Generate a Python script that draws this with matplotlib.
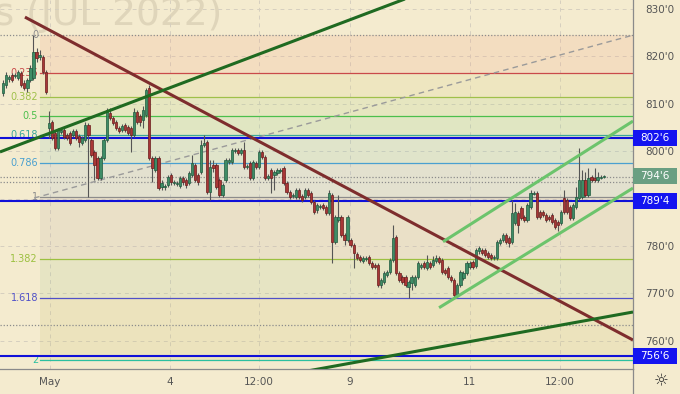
import numpy as np
import matplotlib
matplotlib.use("Agg")
import matplotlib.pyplot as plt
import matplotlib.transforms as mtransforms
from matplotlib.patches import Rectangle

# candles, one per bar, prices in cents
opens = [812.2, 813.9, 815.2, 816.0, 815.8, 815.4, 816.4, 814.3, 813.3, 815.0,
         815.4, 820.9, 819.8, 819.8, 816.6, 804.9, 806.1, 803.8, 800.6, 804.0,
         804.4, 803.4, 803.8, 803.4, 804.2, 803.2, 801.7, 802.3, 805.5, 802.3,
         799.8, 798.5, 794.3, 798.5, 802.3, 808.0, 807.0, 806.1, 804.9, 804.4,
         805.5, 805.1, 804.9, 803.4, 808.2, 807.4, 806.5, 807.6, 813.3, 798.5,
         796.0, 798.5, 792.4, 792.4, 792.8, 795.0, 793.3, 793.1, 792.6, 794.3,
         793.9, 793.3, 795.0, 797.1, 795.0, 795.6, 801.3, 801.9, 791.4, 797.1,
         797.1, 793.9, 790.7, 793.9, 797.7, 797.7, 800.0, 800.2, 799.6, 800.2,
         796.6, 797.5, 794.3, 797.5, 796.6, 799.8, 798.7, 794.3, 796.0, 795.0,
         795.4, 795.8, 796.4, 793.3, 791.4, 790.5, 790.3, 791.8, 790.5, 790.3,
         791.8, 791.2, 789.3, 787.6, 788.2, 788.6, 788.2, 787.0, 790.7, 780.9,
         785.5, 786.1, 782.3, 781.3, 781.3, 780.2, 778.3, 777.7, 776.9, 777.3,
         777.7, 776.4, 776.0, 776.0, 771.8, 772.4, 773.9, 774.5, 777.1, 781.9,
         774.3, 773.5, 773.5, 771.4, 772.2, 771.8, 773.5, 775.6, 776.4, 775.4,
         776.4, 776.0, 776.9, 777.5, 777.1, 775.0, 775.4, 773.5, 772.9, 769.7,
         771.8, 773.3, 774.3, 775.6, 776.6, 775.8, 778.9, 779.2, 779.2, 778.5,
         778.1, 777.5, 777.5, 780.6, 781.3, 782.3, 781.7, 780.9, 784.9, 787.0,
         788.0, 786.1, 785.5, 788.2, 791.0, 791.2, 787.2, 787.2, 786.5, 786.1,
         786.5, 785.5, 785.1, 784.9, 790.1, 789.7, 788.2, 785.9, 788.2, 790.1,
         790.3, 793.9, 790.7, 794.5, 794.3, 793.9, 794.3, 794.5]
closes = [814.3, 816.0, 815.6, 815.0, 816.0, 816.6, 813.9, 813.3, 815.0, 817.5,
          820.9, 819.6, 820.2, 816.6, 812.4, 805.9, 802.7, 800.6, 804.4, 804.4,
          803.0, 802.7, 801.7, 804.2, 802.7, 801.9, 802.7, 805.5, 803.4, 799.2,
          797.1, 794.3, 798.5, 802.3, 808.6, 807.0, 805.9, 804.9, 804.2, 805.3,
          804.4, 803.8, 803.4, 808.2, 806.1, 806.1, 808.6, 812.9, 798.5, 796.4,
          798.5, 792.2, 793.3, 792.6, 794.5, 793.5, 793.5, 793.3, 794.3, 793.5,
          792.8, 795.4, 797.5, 793.9, 793.5, 801.3, 801.7, 791.4, 796.6, 796.4,
          792.4, 790.7, 792.8, 798.1, 798.1, 800.2, 800.2, 799.6, 800.2, 796.6,
          796.9, 794.3, 797.7, 796.6, 799.8, 798.7, 794.3, 794.7, 794.3, 795.6,
          796.0, 796.0, 793.3, 791.4, 790.3, 790.7, 791.8, 790.3, 789.7, 791.8,
          790.7, 789.3, 787.2, 788.6, 788.4, 788.0, 787.0, 791.2, 780.9, 786.1,
          786.1, 782.3, 781.3, 786.1, 780.2, 778.5, 777.5, 777.1, 777.5, 777.5,
          776.4, 775.6, 775.6, 771.8, 772.9, 774.3, 774.5, 777.1, 781.7, 774.3,
          772.9, 772.4, 771.8, 772.4, 773.5, 773.5, 776.4, 776.0, 775.6, 776.6,
          775.6, 777.1, 777.5, 776.6, 774.5, 774.3, 773.5, 772.9, 769.7, 771.8,
          774.5, 774.3, 776.4, 776.4, 775.6, 779.2, 779.6, 778.5, 778.1, 777.7,
          777.5, 777.7, 780.9, 781.3, 782.3, 780.9, 780.6, 787.0, 787.2, 784.4,
          785.9, 785.5, 788.6, 791.2, 791.2, 786.1, 786.1, 786.5, 785.5, 785.7,
          785.1, 784.0, 784.4, 787.2, 787.2, 787.2, 785.9, 788.6, 790.3, 793.9,
          793.9, 790.7, 794.3, 793.9, 793.9, 794.5, 794.5, 794.75]
highs = [815.0, 816.6, 816.0, 816.4, 816.4, 817.1, 816.9, 815.0, 815.4, 818.1,
         824.5, 821.7, 821.3, 820.2, 817.1, 808.4, 806.5, 804.4, 804.9, 804.9,
         804.9, 803.8, 804.2, 804.6, 804.6, 803.6, 803.2, 806.1, 805.9, 802.7,
         800.2, 799.0, 799.0, 802.7, 809.1, 809.1, 807.4, 806.5, 805.3, 805.7,
         805.9, 805.5, 805.3, 809.1, 808.6, 807.8, 809.5, 813.3, 813.9, 799.0,
         799.0, 799.0, 793.9, 793.1, 795.0, 795.4, 793.9, 793.7, 794.7, 794.7,
         794.3, 795.8, 799.2, 797.5, 795.4, 802.3, 803.4, 802.3, 798.1, 798.1,
         797.5, 794.3, 793.3, 798.5, 798.5, 800.6, 800.6, 800.6, 800.6, 801.9,
         797.3, 797.9, 798.1, 797.9, 800.2, 800.2, 799.2, 795.2, 796.4, 796.0,
         796.4, 796.4, 796.9, 793.7, 791.8, 791.2, 792.2, 792.2, 791.0, 792.2,
         792.2, 791.6, 789.7, 789.1, 788.9, 789.1, 788.6, 791.8, 791.2, 786.5,
         790.7, 786.5, 782.7, 786.5, 781.7, 780.6, 778.7, 778.1, 777.9, 777.9,
         778.1, 776.9, 776.4, 776.4, 773.3, 774.8, 775.0, 777.5, 784.4, 782.3,
         774.8, 773.9, 773.9, 772.9, 773.9, 773.9, 776.9, 776.4, 776.9, 778.1,
         776.9, 777.9, 778.1, 777.9, 777.5, 775.4, 775.8, 773.9, 773.3, 772.2,
         775.0, 774.8, 776.9, 776.9, 777.1, 779.6, 780.0, 779.6, 779.6, 778.9,
         778.5, 778.1, 781.3, 781.7, 782.7, 782.7, 782.1, 789.7, 789.1, 787.4,
         788.4, 786.5, 789.1, 791.8, 791.6, 791.6, 787.6, 787.6, 787.0, 786.5,
         787.0, 785.9, 785.5, 787.6, 791.8, 790.1, 788.6, 789.1, 792.4, 800.6,
         796.0, 795.6, 796.4, 795.0, 796.4, 795.6, 795.0, 795.0]
lows = [811.6, 813.3, 814.5, 814.5, 815.4, 815.0, 813.5, 812.9, 812.4, 814.5,
        815.0, 818.7, 819.2, 816.2, 812.0, 802.7, 802.3, 800.2, 800.2, 803.6,
        802.5, 802.3, 801.3, 803.0, 802.3, 800.9, 801.3, 801.9, 790.3, 798.7,
        793.9, 793.9, 793.9, 798.1, 801.9, 806.5, 805.5, 804.4, 803.8, 804.0,
        804.0, 803.4, 799.8, 803.0, 805.7, 805.3, 804.9, 807.2, 798.1, 793.5,
        795.6, 791.8, 791.8, 791.8, 792.4, 792.8, 792.8, 792.6, 792.2, 792.8,
        792.2, 792.8, 794.5, 793.5, 792.8, 795.2, 800.9, 791.0, 789.7, 795.6,
        792.0, 790.3, 790.3, 793.5, 797.3, 797.3, 799.6, 799.2, 799.2, 796.2,
        796.2, 793.9, 793.9, 796.2, 796.2, 798.3, 793.9, 793.9, 791.2, 791.8,
        795.0, 795.4, 792.8, 791.0, 789.9, 790.1, 789.9, 789.9, 789.3, 789.9,
        790.3, 788.9, 786.8, 787.0, 787.8, 787.6, 786.5, 786.5, 776.4, 780.4,
        785.1, 781.9, 780.2, 780.9, 779.8, 775.4, 777.1, 776.6, 776.4, 776.9,
        776.0, 775.2, 775.2, 771.4, 771.2, 772.0, 773.5, 774.1, 776.6, 773.9,
        772.4, 772.0, 771.4, 769.1, 770.8, 771.4, 773.1, 775.2, 775.2, 775.0,
        775.2, 775.6, 776.4, 776.2, 774.1, 773.9, 773.1, 772.4, 769.3, 769.3,
        771.4, 772.9, 773.9, 775.2, 775.2, 775.4, 778.3, 778.1, 777.7, 777.3,
        777.1, 777.1, 777.1, 780.2, 780.9, 780.4, 779.8, 780.4, 784.4, 782.7,
        785.5, 785.1, 785.1, 787.8, 790.7, 785.7, 785.7, 786.1, 785.1, 785.3,
        784.6, 783.6, 783.2, 784.4, 786.8, 786.8, 785.5, 785.5, 787.8, 789.7,
        789.9, 790.3, 790.3, 793.5, 793.5, 793.5, 794.1, 794.3]

time_ticks = [15.4, 54.8, 83.9, 113.8, 153.1, 182.6]
time_labels = ["May", "4", "12:00", "9", "11", "12:00"]
price_ticks = [760, 770, 780, 790, 800, 810, 820, 830]
hidden_ticks = [790]  # covered by the 789'4 marker

fib_top = 824.5
fib_bottom = 790.25
fib_start = 12.1
fib_ratios = [0, 0.236, 0.382, 0.5, 0.618, 0.786, 1, 1.382, 1.618, 2]
fib_names = ["0", "0.236", "0.382", "0.5", "0.618", "0.786", "1", "1.382", "1.618", "2"]
fib_colors = ["#8c8c8c", "#c94a4a", "#9fc04a", "#4cbf4c", "#3aa898", "#4aa0d0",
              "#8c8c8c", "#9cc040", "#5050c8", "#2cc0a0"]
fib_bands = ["#f2a080", "#d6d080", "#a8d080", "#88d088", "#88c8b8", "#98b8d0",
             "#c0b0a8", "#a8c890", "#c8c070"]

key_levels = [802.75, 789.5, 756.75]
key_names = ["802'6", "789'4", "756'6"]
last_price = 794.75
last_name = "794'6"
dotted_levels = [824.5, 794.5, 793.4, 763.3]

# drawn trendlines: (x0, p0, x1, p1) in bar index / price
maroon_line = (7.2, 828.2, 206.6, 760.2)
green_up_line = (-1.0, 799.8, 140.0, 834.0)
green_low_line = (100.0, 753.7, 206.6, 766.1)
channel_top = (144.3, 780.9, 206.6, 806.3)
channel_bottom = (143.0, 767.0, 206.6, 792.2)
grey_dash = (10.2, 790.1, 206.6, 824.4)

bg = "#f4ebcf"
up_color = "#3e8c66"
down_color = "#a83636"

fig = plt.figure(figsize=(6.8, 3.94), dpi=100, facecolor=bg)
ax = fig.add_axes([0, 25 / 394, 633 / 680, 369 / 394])
ax.set_facecolor(bg)
xmin, xmax = -0.98, 206.6
ax.set_xlim(xmin, xmax)
ax.set_ylim(754.1, 831.8)

# watermark
ax.text(222 / 633, 1 - 25 / 369, "Corn Futures (JUL 2022)", transform=ax.transAxes,
        ha="right", va="baseline", fontsize=27, color="#dfd5ba", zorder=0)

# grid
for p in price_ticks:
    ax.axhline(p, color="#d6cfbf", lw=0.7, ls=(0, (4, 4)), zorder=1)
for t in time_ticks:
    ax.axvline(t, color="#d6cfbf", lw=0.7, ls=(0, (4, 4)), zorder=1)

# fibonacci retracement
span = fib_top - fib_bottom
fib_prices = [fib_top - r * span for r in fib_ratios]
for i in range(len(fib_bands)):
    ax.fill_between([fib_start, xmax], fib_prices[i], fib_prices[i + 1],
                    color=fib_bands[i], alpha=0.18, lw=0, zorder=1)
for price, name, col in zip(fib_prices, fib_names, fib_colors):
    if name != "0":
        ax.plot([fib_start, xmax], [price, price], color=col, lw=0.9, zorder=2)
    ax.text(fib_start - 0.6, price, name, color=col, fontsize=7,
            ha="right", va="center", zorder=2)

for p in dotted_levels:
    ax.axhline(p, color="#8c8c8c", lw=0.9, ls=(0, (1, 1.5)), zorder=2)

ax.plot(grey_dash[::2], grey_dash[1::2], color="#9a9a9a", lw=1.0, ls=(0, (4, 3)), zorder=2)

for p in key_levels:
    ax.axhline(p, color="#1010d8", lw=1.5, zorder=3)

# candles
x = np.arange(len(closes))
o = np.array(opens)
c = np.array(closes)
up = c >= o
ax.vlines(x, lows, highs, color="#555555", lw=0.8, zorder=4)
ax.bar(x, np.maximum(np.abs(c - o), 0.25), bottom=np.minimum(o, c), width=0.74,
       color=np.where(up, up_color, down_color),
       edgecolor=np.where(up, "#1f5a3e", "#6a1c1c"), linewidth=0.5, zorder=5)

# trendlines
for line, col in [(maroon_line, "#7e2d2d"), (green_up_line, "#1f6a21"),
                  (green_low_line, "#1f6a21"), (channel_top, "#6cc46c"),
                  (channel_bottom, "#6cc46c")]:
    ax.plot(line[::2], line[1::2], color=col, lw=2.2, solid_capstyle="butt", zorder=6)

# axes
for side in ["top", "left"]:
    ax.spines[side].set_visible(False)
for side in ["right", "bottom"]:
    ax.spines[side].set_color("#8a8a8a")
    ax.spines[side].set_linewidth(0.9)
ax.set_xticks(time_ticks)
ax.set_xticklabels(time_labels)
ax.yaxis.tick_right()
ax.set_yticks(price_ticks)
ax.set_yticklabels(["" if p in hidden_ticks else f"{p}'0" for p in price_ticks])
ax.tick_params(axis="both", length=0, colors="#555555", labelsize=7.5)
ax.tick_params(axis="x", pad=6)
ax.tick_params(axis="y", pad=9)

# price markers on the scale
trans = mtransforms.blended_transform_factory(ax.transAxes, ax.transData)
box_h = 3.4
markers = list(zip(key_levels, key_names, ["#1414f0"] * 3)) + [(last_price, last_name, "#6a9f82")]
for p, name, col in markers:
    ax.add_patch(Rectangle((1.0, p - box_h / 2), 44 / 633, box_h, transform=trans,
                           fc=col, ec="none", clip_on=False, zorder=9))
    ax.text(655 / 633, p, name, transform=trans, ha="center", va="center",
            fontsize=7.5, color="white", clip_on=False, zorder=10)

fig.add_artist(plt.Line2D([633 / 680, 633 / 680], [0, 25 / 394], color="#8a8a8a",
                          lw=0.9, transform=fig.transFigure))
fig.text(661 / 680, 1 - 381 / 394, "\u263c", ha="center", va="center",
         fontsize=12, color="#333333")

fig.savefig("out.png", dpi=100, facecolor=bg)
